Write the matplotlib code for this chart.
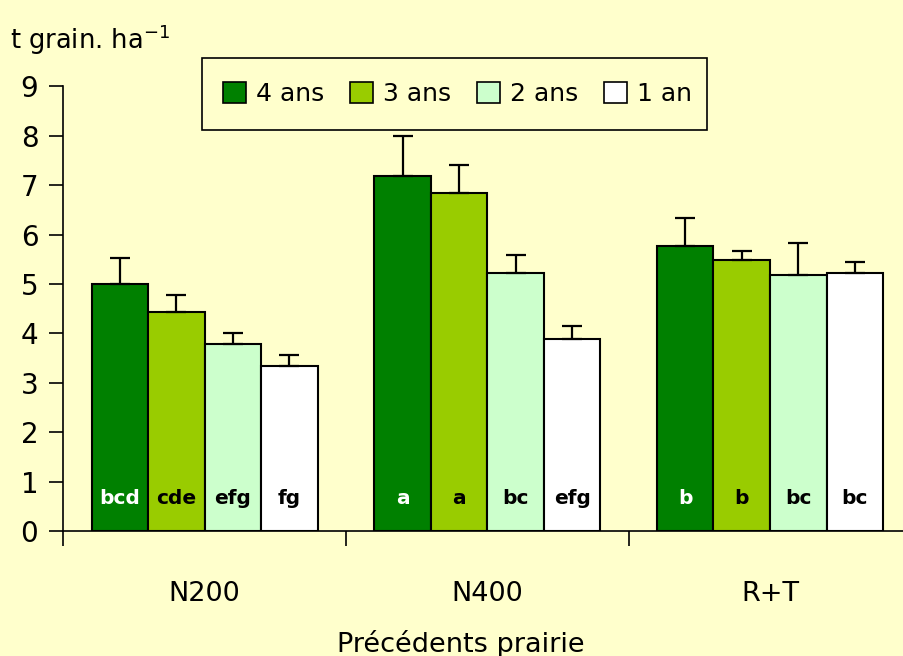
import matplotlib
matplotlib.use("Agg")
import matplotlib.pyplot as plt
from matplotlib.patches import Patch, Rectangle
import numpy as np

# donnees
categories = ["N200", "N400", "R+T"]
series = ["4 ans", "3 ans", "2 ans", "1 an"]
ans4 = [5.00, 7.19, 5.77]
ans3 = [4.44, 6.84, 5.48]
ans2 = [3.78, 5.22, 5.19]
an1 = [3.33, 3.88, 5.22]
err4 = [0.52, 0.80, 0.57]
err3 = [0.33, 0.57, 0.19]
err2 = [0.22, 0.37, 0.63]
err1 = [0.23, 0.26, 0.23]
lettres4 = ["bcd", "a", "b"]
lettres3 = ["cde", "a", "b"]
lettres2 = ["efg", "bc", "bc"]
lettres1 = ["fg", "efg", "bc"]

valeurs = [ans4, ans3, ans2, an1]
erreurs = [err4, err3, err2, err1]
lettres = [lettres4, lettres3, lettres2, lettres1]
couleurs = ["#008000", "#99CC00", "#CCFFCC", "#FFFFFF"]
couleurs_texte = ["white", "black", "black", "black"]
fond = "#FFFFCC"

plt.rcParams['font.family'] = ['DejaVu Sans']

fig = plt.figure(figsize=(9.04, 6.56), dpi=100, facecolor=fond)
ax = fig.add_axes([0.0701, 0.1905, 0.938, 0.678])
ax.set_facecolor(fond)

largeur = 0.2
x = np.arange(len(categories)) + 0.5
for j in range(len(series)):
    pos = x + (j - 1.5) * largeur
    ax.bar(pos, valeurs[j], width=largeur, color=couleurs[j], edgecolor="black",
           linewidth=1.5, label=series[j], zorder=2)
    ax.errorbar(pos, valeurs[j], yerr=[np.zeros(len(categories)), erreurs[j]],
                fmt="none", ecolor="black", elinewidth=1.6, capsize=7, capthick=1.6, zorder=3)
    for p, lab in zip(pos, lettres[j]):
        ax.text(p, 0.65, lab, ha="center", va="center", fontsize=14.5, fontweight="bold",
                color=couleurs_texte[j], zorder=4)

ax.set_xlim(0, 3)
ax.set_ylim(0, 9)
ax.set_yticks(range(0, 10))
ax.tick_params(axis="y", labelsize=20, length=10, width=1.2, pad=8)
ax.set_xticks([0, 1, 2, 3])
ax.set_xticklabels([])
ax.tick_params(axis="x", which="major", length=11, width=1.2)
ax.set_xticks(x, minor=True)
ax.set_xticklabels(categories, minor=True)
ax.tick_params(axis="x", which="minor", length=0, labelsize=19.5, pad=36)

for s in ["top", "right"]:
    ax.spines[s].set_visible(False)
ax.spines["left"].set_linewidth(1.2)
ax.spines["bottom"].set_linewidth(1.2)

ax.set_xlabel("Précédents prairie", fontsize=19.5)
ax.xaxis.set_label_coords(0.469, -0.222)
fig.text(0.011, 0.94, "t grain. ha$^{-1}$", fontsize=18.5, ha="left", va="center")

# cadre de la legende
fig.patches.append(Rectangle((0.2235, 0.8018), 0.5586, 0.1098, transform=fig.transFigure,
                             facecolor=fond, edgecolor="black", linewidth=1.2, zorder=5))
poignees = [Patch(facecolor=c, edgecolor="black", linewidth=1.2) for c in couleurs]
leg = fig.legend(poignees, series, loc="center", bbox_to_anchor=(0.506, 0.8567),
                 ncol=4, fontsize=18, frameon=False, handlelength=0.9,
                 handleheight=0.9, handletextpad=0.4, columnspacing=1.05, borderpad=0)
leg.set_zorder(6)

fig.savefig("out.png", dpi=100, facecolor=fond)
